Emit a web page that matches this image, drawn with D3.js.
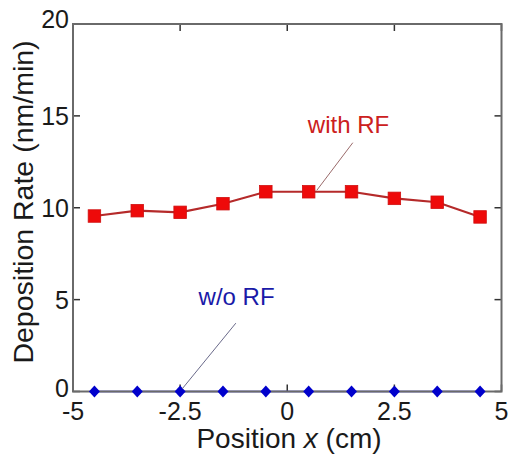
<!DOCTYPE html>
<html>
<head>
<meta charset="utf-8">
<script src="https://cdn.jsdelivr.net/npm/d3@7"></script>
<style>
  body { margin: 0; background: #fff; }
  text { font-family: Arial, "Liberation Sans", sans-serif; }
</style>
</head>
<body>
<svg id="chart" width="509" height="457"></svg>
<script>
// data
const positions = [-4.5, -3.5, -2.5, -1.5, -0.5, 0.5, 1.5, 2.5, 3.5, 4.5];
const withRF = [9.55, 9.84, 9.75, 10.22, 10.87, 10.87, 10.87, 10.51, 10.3, 9.5];
const withoutRF = [0, 0, 0, 0, 0, 0, 0, 0, 0, 0];
const xTicks = [-5, -2.5, 0, 2.5, 5];
const yTicks = [0, 5, 10, 15, 20];

const margin = {top: 24, right: 7.5, bottom: 65.5, left: 73};
const W = 509, H = 457;
const width = W - margin.left - margin.right;
const height = H - margin.top - margin.bottom;

const svg = d3.select("#chart");
const g = svg.append("g").attr("transform", `translate(${margin.left},${margin.top})`);

const x = d3.scaleLinear().domain([-5, 5]).range([0, width]);
const y = d3.scaleLinear().domain([0, 20]).range([height, 0]);

// tick marks (inward, all four sides)
const tickLen = 7;
const ticks = g.append("g").attr("stroke", "#333").attr("stroke-width", 1.5);
xTicks.forEach(t => {
    ticks.append("line").attr("x1", x(t)).attr("x2", x(t)).attr("y1", height).attr("y2", height - tickLen);
    ticks.append("line").attr("x1", x(t)).attr("x2", x(t)).attr("y1", 0).attr("y2", tickLen);
});
yTicks.forEach(t => {
    ticks.append("line").attr("x1", 0).attr("x2", tickLen).attr("y1", y(t)).attr("y2", y(t));
    ticks.append("line").attr("x1", width).attr("x2", width - tickLen).attr("y1", y(t)).attr("y2", y(t));
});

// w/o RF series
const blueLine = d3.line().x((d, i) => x(positions[i])).y(d => y(d));
g.append("path")
    .datum(withoutRF)
    .attr("fill", "none")
    .attr("stroke", "#0000c8")
    .attr("stroke-width", 1.5)
    .attr("d", blueLine);

// frame
g.append("rect")
    .attr("width", width)
    .attr("height", height)
    .attr("fill", "none")
    .attr("stroke", "#6a6a6a")
    .attr("stroke-width", 2);

// diamonds
g.selectAll(".diamond")
    .data(withoutRF)
    .join("path")
    .attr("class", "diamond")
    .attr("transform", (d, i) => `translate(${x(positions[i])},${y(d)})`)
    .attr("d", "M0,-6L5.5,0L0,6L-5.5,0Z")
    .attr("fill", "#0000cc");

// with RF series
const redLine = d3.line().x((d, i) => x(positions[i])).y(d => y(d));
g.append("path")
    .datum(withRF)
    .attr("fill", "none")
    .attr("stroke", "#b52a2a")
    .attr("stroke-width", 2.2)
    .attr("d", redLine);

const sq = 12.5;
g.selectAll(".square")
    .data(withRF)
    .join("rect")
    .attr("class", "square")
    .attr("x", (d, i) => x(positions[i]) - sq / 2)
    .attr("y", d => y(d) - sq / 2)
    .attr("width", sq)
    .attr("height", sq)
    .attr("fill", "#ee0a0a")
    .attr("stroke", "#d01010")
    .attr("stroke-width", 0.8);

// tick labels
g.selectAll(".xlab")
    .data(xTicks)
    .join("text")
    .attr("class", "xlab")
    .attr("x", d => x(d))
    .attr("y", height + 28)
    .attr("text-anchor", "middle")
    .attr("font-size", 25)
    .attr("fill", "#1a1a1a")
    .text(d => d);

g.selectAll(".ylab")
    .data(yTicks)
    .join("text")
    .attr("class", "ylab")
    .attr("x", -4)
    .attr("y", d => y(d) + (d === 0 ? -4 : d === 20 ? -5 : 0))
    .attr("dy", "0.36em")
    .attr("text-anchor", "end")
    .attr("font-size", 25)
    .attr("fill", "#1a1a1a")
    .text(d => d);

// axis titles
const xt = svg.append("text")
    .attr("x", 289)
    .attr("y", 448)
    .attr("text-anchor", "middle")
    .attr("font-size", 28)
    .attr("fill", "#1a1a1a");
xt.append("tspan").text("Position ");
xt.append("tspan").attr("font-style", "italic").text("x");
xt.append("tspan").text(" (cm)");

svg.append("text")
    .attr("transform", "translate(33,202) rotate(-90)")
    .attr("text-anchor", "middle")
    .attr("font-size", 28.5)
    .attr("fill", "#1a1a1a")
    .text("Deposition Rate (nm/min)");

// annotations
g.append("line")
    .attr("x1", x(1.53)).attr("y1", y(13.54))
    .attr("x2", x(0.69)).attr("y2", y(10.95))
    .attr("stroke", "#9a6a6a")
    .attr("stroke-width", 1);
g.append("text")
    .attr("x", x(0.48))
    .attr("y", y(14.07))
    .attr("font-size", 24)
    .attr("fill", "#cc2020")
    .text("with RF");

g.append("line")
    .attr("x1", x(-1.2)).attr("y1", y(3.72))
    .attr("x2", x(-2.45)).attr("y2", y(0.15))
    .attr("stroke", "#6a6a8a")
    .attr("stroke-width", 1);
g.append("text")
    .attr("x", x(-2.07))
    .attr("y", y(4.7))
    .attr("font-size", 24)
    .attr("fill", "#1a1aa8")
    .text("w/o RF");
</script>
</body>
</html>
